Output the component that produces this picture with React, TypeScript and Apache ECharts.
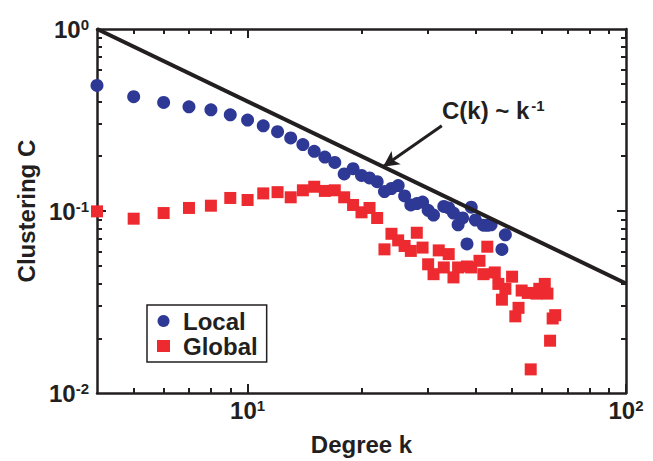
import React, { useEffect, useRef } from "react";
import * as echarts from "echarts";

const localK = [4, 5, 6, 7, 8, 9, 10, 11, 12, 13, 14, 15, 16, 17, 18, 19, 20, 21, 22, 23, 24, 25, 26, 27, 28, 29, 30, 31, 33, 34, 35, 36, 37, 38, 39, 40, 42, 43, 44, 47, 48];
const localC = [0.49, 0.425, 0.395, 0.374, 0.36, 0.338, 0.316, 0.294, 0.273, 0.252, 0.232, 0.213, 0.198, 0.185, 0.16, 0.171, 0.157, 0.152, 0.145, 0.128, 0.133, 0.138, 0.121, 0.108, 0.11, 0.112, 0.101, 0.095, 0.106, 0.104, 0.0975, 0.084, 0.0916, 0.066, 0.105, 0.0893, 0.0836, 0.0835, 0.084, 0.0615, 0.074];

const globalK = [4, 5, 6, 7, 8, 9, 10, 11, 12, 13, 14, 15, 16, 17, 18, 19, 20, 21, 22, 23, 24, 25, 26, 27, 28, 29, 30, 31, 32, 33, 34, 35, 36, 38, 39, 41, 42, 43, 45, 46, 47, 48, 50, 51, 52, 53, 55, 56, 58, 59, 61, 62, 63, 64, 65];
const globalC = [0.0996, 0.0908, 0.0975, 0.104, 0.107, 0.118, 0.115, 0.125, 0.127, 0.119, 0.13, 0.136, 0.129, 0.13, 0.119, 0.108, 0.0984, 0.104, 0.0916, 0.0616, 0.075, 0.069, 0.0643, 0.0604, 0.076, 0.063, 0.051, 0.045, 0.0608, 0.049, 0.058, 0.0432, 0.049, 0.0496, 0.049, 0.0533, 0.045, 0.0637, 0.046, 0.0398, 0.0326, 0.0374, 0.0436, 0.0264, 0.0294, 0.0366, 0.0355, 0.0135, 0.0352, 0.0374, 0.0398, 0.0352, 0.0194, 0.0257, 0.0268];

// reference power law C(k) ~ k^-1, endpoints
const refK = [4, 100];
const refC = [1, 0.04];

// annotation arrow (data coords): from text to line
const arrowFrom = [32.6, 0.294];
const arrowTo = [22.8, 0.175];

const xMajor = [10, 100];
const xMinor = [5, 6, 7, 8, 9, 20, 30, 40, 50, 60, 70, 80, 90];
const yLabels = [0.01, 0.1, 1];
const yMajor = [0.1];
const yMinor = [0.02, 0.03, 0.04, 0.05, 0.06, 0.07, 0.08, 0.09, 0.2, 0.3, 0.4, 0.5, 0.6, 0.7, 0.8, 0.9];

const FONT = "'Liberation Sans', Arial, Helvetica, sans-serif";
const INK = "#231f20";
const BLUE = "#2e3995";
const RED = "#ed2a2f";

const powFmt = (v: number) => {
  const e = Math.round(Math.log10(v));
  return `{b|10}{s|${e}}`;
};
const powRich = {
  b: { fontSize: 24, fontWeight: "bold", fontFamily: FONT, color: INK, lineHeight: 24, verticalAlign: "bottom" },
  s: { fontSize: 15, fontWeight: "bold", fontFamily: FONT, color: INK, lineHeight: 16, verticalAlign: "top", padding: [0, 0, 14, 0] },
};

export default function App() {
  const ref = useRef<HTMLDivElement>(null);
  useEffect(() => {
    if (!ref.current) return;
    const chart = echarts.init(ref.current, null, { renderer: "svg" });
    const axisLine = { show: true, lineStyle: { color: INK, width: 2.5 } };
    const base = { type: "log", logBase: 10, splitLine: { show: false } };
    const xBase = { ...base, min: 4, max: 100 };
    const yBase = { ...base, min: 0.01, max: 1 };
    const majorTick = (vals: number[]) => ({ show: true, inside: true, length: 9, customValues: vals, lineStyle: { color: INK, width: 2 } });
    const minorTick = (vals: number[]) => ({ show: true, inside: true, length: 5, customValues: vals, lineStyle: { color: INK, width: 2 } });
    const noLabel = { show: false };

    const option: any = {
      animation: false,
      backgroundColor: "#fff",
      grid: { left: 97, top: 29, width: 529, height: 368, containLabel: false },
      xAxis: [
        {
          ...xBase, position: "bottom", axisLine, axisTick: majorTick(xMajor),
          axisLabel: { show: true, customValues: xMajor, formatter: powFmt, rich: powRich, margin: 5 },
          name: "Degree k", nameLocation: "middle", nameGap: 37,
          nameTextStyle: { fontSize: 24, fontWeight: "bold", fontFamily: FONT, color: INK },
        },
        { ...xBase, position: "bottom", axisLine: { show: false }, axisTick: minorTick(xMinor), axisLabel: noLabel },
        { ...xBase, position: "top", axisLine, axisTick: majorTick(xMajor), axisLabel: noLabel },
        { ...xBase, position: "top", axisLine: { show: false }, axisTick: minorTick(xMinor), axisLabel: noLabel },
      ],
      yAxis: [
        {
          ...yBase, position: "left", axisLine, axisTick: majorTick(yMajor),
          axisLabel: { show: true, customValues: yLabels, formatter: powFmt, rich: powRich, margin: 8 },
          name: "Clustering C", nameLocation: "middle", nameGap: 56,
          nameTextStyle: { fontSize: 24, fontWeight: "bold", fontFamily: FONT, color: INK },
        },
        { ...yBase, position: "left", axisLine: { show: false }, axisTick: minorTick(yMinor), axisLabel: noLabel },
        { ...yBase, position: "right", axisLine, axisTick: majorTick(yMajor), axisLabel: noLabel },
        { ...yBase, position: "right", axisLine: { show: false }, axisTick: minorTick(yMinor), axisLabel: noLabel },
      ],
      legend: {
        data: [
          { name: "Local", icon: "circle" },
          { name: "Global", icon: "rect" },
        ],
        orient: "vertical",
        left: 147, top: 305,
        padding: [4, 9, 4, 10],
        itemGap: 1,
        itemWidth: 13, itemHeight: 12,
        borderColor: INK, borderWidth: 1.5,
        backgroundColor: "#fff",
        textStyle: { fontSize: 24, fontWeight: "bold", fontFamily: FONT, color: INK, lineHeight: 24, padding: [0, 0, 0, 8] },
      },
      graphic: [
        {
          type: "text", left: 442, top: 98, z: 100,
          style: {
            text: "{b|C(k) ~ k}{s|-1}",
            rich: {
              b: { fontSize: 24, fontWeight: "bold", fontFamily: FONT, fill: INK, lineHeight: 24, verticalAlign: "bottom" },
              s: { fontSize: 15, fontWeight: "bold", fontFamily: FONT, fill: INK, lineHeight: 16, verticalAlign: "top", padding: [0, 0, 14, 2] },
            },
          },
        },
      ],
      series: [
        {
          name: "Local", type: "scatter", xAxisIndex: 0, yAxisIndex: 0, clip: false,
          symbol: "circle", symbolSize: 13,
          itemStyle: { color: BLUE, opacity: 1 },
          data: localK.map((k, i) => [k, localC[i]]),
          z: 2,
        },
        {
          name: "Global", type: "scatter", xAxisIndex: 0, yAxisIndex: 0, clip: false,
          symbol: "rect", symbolSize: 12,
          itemStyle: { color: RED, opacity: 1 },
          data: globalK.map((k, i) => [k, globalC[i]]),
          z: 3,
        },
        {
          name: "ref", type: "line", xAxisIndex: 0, yAxisIndex: 0,
          symbol: "none", lineStyle: { color: INK, width: 4 },
          data: refK.map((k, i) => [k, refC[i]]),
          z: 4,
          markLine: {
            silent: true, symbol: ["none", "arrow"], symbolSize: [12, 16],
            label: { show: false },
            lineStyle: { color: INK, width: 3, type: "solid" },
            data: [[{ coord: arrowFrom }, { coord: arrowTo }]],
          },
        },
      ],
    };
    chart.setOption(option);
    return () => chart.dispose();
  }, []);
  return <div ref={ref} style={{ position: "fixed", left: 0, top: 0, width: 653, height: 461, background: "#fff" }} />;
}
